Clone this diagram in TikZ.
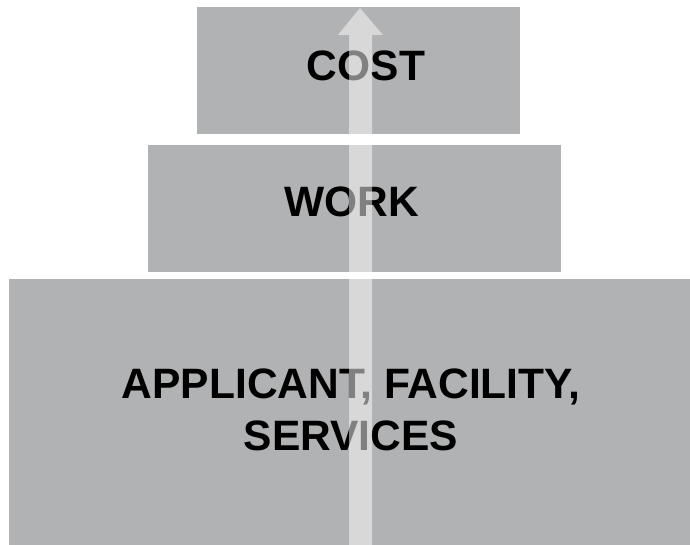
\documentclass[tikz,border=0pt]{standalone}
\usepackage{fontspec}
\setmainfont{Liberation Sans}
\definecolor{boxgray}{HTML}{B1B2B4}
\tikzset{
  tier/.style={fill=boxgray, draw=none},
  label/.style={font=\fontsize{42.5}{52}\selectfont\bfseries, anchor=base, align=center, inner sep=0pt},
}
\begin{document}
\begin{tikzpicture}[x=1pt,y=-1pt]
    \useasboundingbox (0,0) rectangle (690,545);

    % tiers
    \fill[tier] (197,7) rectangle (520,134);
    \fill[tier] (148,145) rectangle (561,272);
    \fill[tier] (9,279) rectangle (690,545);

    \node[label] (cost) at (366,81) {COST};
    \node[label] (work) at (352,217) {WORK};
    \node[label] (base) at (351,450) {APPLICANT, FACILITY,\\SERVICES};

    % arrow
    \fill[white, fill opacity=0.5]
        (349,545) -- (349,35) -- (338,35) -- (360,8) -- (383,35) -- (372,35) -- (372,545) -- cycle;

\end{tikzpicture}
\end{document}
